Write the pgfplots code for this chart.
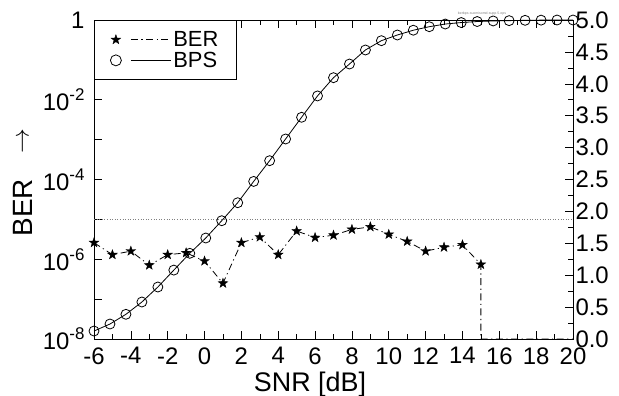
\documentclass[border=0pt]{standalone}
\usepackage{fontspec}
\setmainfont{Liberation Sans}
\usepackage{pgfplots}
\pgfplotsset{compat=1.18}
\pgfdeclareplotmark{fstar}{%
  \pgfpathmoveto{\pgfpointpolar{90}{\pgfplotmarksize}}%
  \pgfpathlineto{\pgfpointpolar{126}{0.4\pgfplotmarksize}}%
  \pgfpathlineto{\pgfpointpolar{162}{\pgfplotmarksize}}%
  \pgfpathlineto{\pgfpointpolar{198}{0.4\pgfplotmarksize}}%
  \pgfpathlineto{\pgfpointpolar{234}{\pgfplotmarksize}}%
  \pgfpathlineto{\pgfpointpolar{270}{0.4\pgfplotmarksize}}%
  \pgfpathlineto{\pgfpointpolar{306}{\pgfplotmarksize}}%
  \pgfpathlineto{\pgfpointpolar{342}{0.4\pgfplotmarksize}}%
  \pgfpathlineto{\pgfpointpolar{18}{\pgfplotmarksize}}%
  \pgfpathlineto{\pgfpointpolar{54}{0.4\pgfplotmarksize}}%
  \pgfpathclose
  \pgfusepathqfillstroke
}
\pgfplotsset{mylegend/.style={legend image code/.code={%
  \draw[##1,mark=none] (15bp,0bp) -- (55bp,0bp);
  \draw[##1,only marks] plot coordinates {(0bp,0bp)};}}}
\newcommand{\mysup}[1]{\raisebox{0.42em}{\fontsize{17}{17}\selectfont #1}}

\pgfplotstableread{
x y
-6 2.6e-6
-5 1.3e-6
-4 1.6e-6
-3 7.1e-7
-2 1.3e-6
-1 1.45e-6
0 9.0e-7
1 2.5e-7
2 2.6e-6
3 3.6e-6
4 1.3e-6
5 5.1e-6
6 3.5e-6
7 4.0e-6
8 5.6e-6
9 6.5e-6
10 4.2e-6
11 2.8e-6
12 1.6e-6
13 2.0e-6
14 2.3e-6
15 7.4e-7
15 1e-8
16 1e-8
17 1e-8
18 1e-8
19 1e-8
20 1e-8
}\berdata

\pgfplotstableread{
x y
-6.000 0.125
-5.133 0.235
-4.267 0.387
-3.400 0.580
-2.533 0.815
-1.667 1.080
-0.800 1.343
0.067 1.583
0.933 1.854
1.800 2.136
2.667 2.470
3.533 2.795
4.400 3.135
5.267 3.475
6.133 3.810
7.000 4.096
7.867 4.310
8.733 4.530
9.600 4.676
10.467 4.765
11.333 4.840
12.200 4.895
13.067 4.937
13.933 4.960
14.800 4.976
15.667 4.985
16.533 4.990
17.400 4.995
18.267 4.998
19.133 5.000
20.000 5.000
}\bpsdata

\begin{document}
\begin{tikzpicture}
\begin{axis}[name=ax1, scale only axis, width=479bp, height=319bp,
  xmin=-6, xmax=20, ymode=log, log basis y=10, ymin=1e-8, ymax=1,
  clip=false,
  xtick={-6,-4,...,20},
  xticklabels={-6,-4,-2,0,2,4,6,8,10,12,14,16,18,20},
  minor xtick={-5,-3,...,19},
  ytick={1e-8,1e-7,1e-6,1e-5,1e-4,1e-3,1e-2,1e-1,1},
  yticklabels={10\mysup{-8},,10\mysup{-6},,10\mysup{-4},,10\mysup{-2},,1},
  yminorticks=false,
  ytick pos=left, tick align=inside,
  major tick length=8bp, minor tick length=5bp,
  tick style={black, line width=0.6bp},
  axis line style={black, line width=0.8bp},
  ticklabel style={font=\fontsize{24}{28}\selectfont},
  xticklabel style={yshift=-5bp},
  yticklabel style={xshift=-6bp},
  label style={font=\fontsize{27}{30}\selectfont},
  xlabel={SNR [dB]},
  xlabel style={at={(axis description cs:0.451,-0.142)}, anchor=center},
  ylabel={BER},
  ylabel style={at={(axis description cs:-0.149,0.412)}, anchor=center, font=\fontsize{28}{30}\selectfont},
  legend style={at={(0,1)}, anchor=north west, draw=black, line width=0.8bp,
    font=\fontsize{22}{25}\selectfont, inner xsep=16bp, inner ysep=9bp,
    row sep=0bp, cells={anchor=west}},
]
\addplot[gray, dotted, line width=0.6bp, forget plot] coordinates {(-6,1e-5) (20,1e-5)};
\addplot[black, line width=0.8bp, dash pattern=on 7bp off 3.5bp on 1.2bp off 3.5bp,
  mark=fstar, mark size=5bp, mark options={solid, fill=black, line width=0.4bp},
  mark indices={1,...,22}, mylegend] table[x=x,y=y] {\berdata};
\addlegendentry{BER}
\addlegendimage{black, line width=0.8bp, mark=o, mark size=5.5bp, mark options={solid}, mylegend}
\addlegendentry{BPS}
\node[font=\fontsize{3.5}{4}\selectfont, text=gray, anchor=south] at (rel axis cs:0.81,1.005) {berbps-suomisomd-supp-5.eps};
\node[rotate=90, anchor=center, inner sep=0pt, font=\fontsize{28}{30}\selectfont] at (rel axis cs:-0.146,0.62) {$\rightarrow$};
\end{axis}
\begin{axis}[scale only axis, width=479bp, height=319bp,
  xmin=-6, xmax=20, ymin=0, ymax=5,
  axis x line=none, axis y line*=right, tick align=inside,
  ytick={0,0.5,...,5},
  yticklabels={0.0,0.5,1.0,1.5,2.0,2.5,3.0,3.5,4.0,4.5,5.0},
  minor ytick={0.25,0.75,...,4.75},
  major tick length=8bp, minor tick length=5bp,
  tick style={black, line width=0.6bp},
  axis line style={black, line width=0.8bp},
  ticklabel style={font=\fontsize{24}{28}\selectfont},
  yticklabel style={xshift=-1bp},
  clip=false,
]
\addplot[black, line width=0.8bp, mark=o, mark size=5bp] table[x=x,y=y] {\bpsdata};
\end{axis}
\pgfresetboundingbox
\path ([xshift=-94bp,yshift=-57bp]ax1.south west) rectangle ([xshift=46bp,yshift=20bp]ax1.north east);
\end{tikzpicture}
\end{document}
